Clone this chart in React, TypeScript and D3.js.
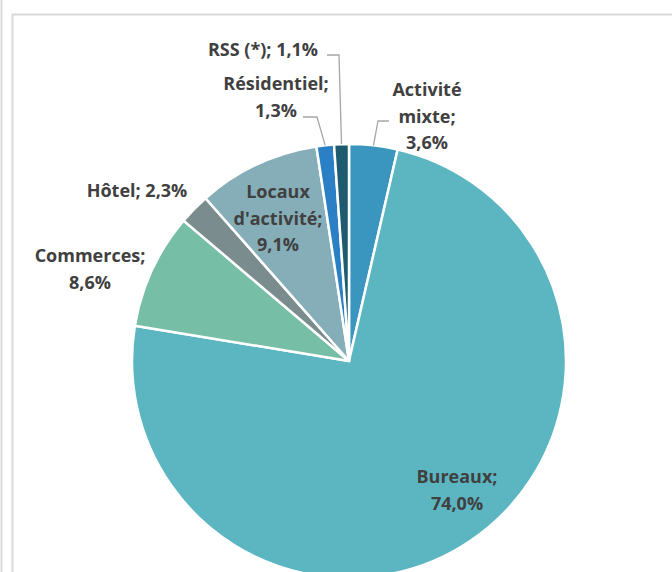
import React from "react";
import * as d3 from "d3";

const categories = ["Activité mixte", "Bureaux", "Commerces", "Hôtel", "Locaux d'activité", "Résidentiel", "RSS (*)"];
const values = [3.6, 74.0, 8.6, 2.3, 9.1, 1.3, 1.1];
const colors = ["#3a96be", "#5bb6c1", "#76bea5", "#7a8c8d", "#86aeb8", "#2b80c5", "#1f5b6e"];

// label layout: lines of text, centre x, first baseline, leader elbow points (null = none)
const labelLines = [
  ["Activité", "mixte;", "3,6%"],
  ["Bureaux;", "74,0%"],
  ["Commerces;", "8,6%"],
  ["Hôtel; 2,3%"],
  ["Locaux", "d'activité;", "9,1%"],
  ["Résidentiel;", "1,3%"],
  ["RSS (*); 1,1%"],
];
const labelPos: [number, number][] = [
  [427, 96], [457, 483], [90, 262], [137, 197], [278, 198], [276, 90], [263, 56],
];
const leaders: ([number, number][] | null)[] = [
  [[389, 121], [378, 121]],
  null,
  null,
  null,
  null,
  [[303, 117], [317, 117]],
  [[327, 55], [339, 55]],
];

const W = 672, H = 572;
const cx = 349, cy = 361, R = 217;
const lineH = 26.5;

export default function App() {
  const pie = d3.pie<number>().sort(null).value((d) => d)(values);
  const arc = d3.arc<d3.PieArcDatum<number>>().innerRadius(0).outerRadius(R);
  return (
    <svg width={W} height={H} style={{ position: "fixed", left: 0, top: 0, background: "#fff" }}
      fontFamily="'Open Sans', sans-serif">
      <line x1={1.5} y1={0} x2={1.5} y2={H} stroke="#d9d9d9" strokeWidth={2} />
      <line x1={12.5} y1={14} x2={12.5} y2={H} stroke="#d9d9d9" strokeWidth={2} />
      <line x1={12} y1={14.5} x2={W} y2={14.5} stroke="#d9d9d9" strokeWidth={2} />
      <g transform={`translate(${cx},${cy})`}>
        {pie.map((p, i) => (
          <path key={i} d={arc(p) || ""} fill={colors[i]} stroke="#fff" strokeWidth={2.5} strokeLinejoin="round" />
        ))}
      </g>
      {pie.map((p, i) => {
        const ld = leaders[i];
        if (!ld) return null;
        const a = (p.startAngle + p.endAngle) / 2;
        const ex = cx + R * Math.sin(a);
        const ey = cy - R * Math.cos(a);
        const pts = [...ld, [ex, ey]];
        return (
          <polyline key={"l" + i} points={pts.map((q) => q.join(",")).join(" ")} fill="none" stroke="#a6a6a6" strokeWidth={1.3} />
        );
      })}
      {labelLines.map((lines, i) => (
        <text key={"t" + i} textAnchor="middle" fontWeight="bold" fontSize={18} fill="#404040">
          {lines.map((s, j) => (
            <tspan key={j} x={labelPos[i][0]} y={labelPos[i][1] + j * lineH}>{s}</tspan>
          ))}
        </text>
      ))}
    </svg>
  );
}
